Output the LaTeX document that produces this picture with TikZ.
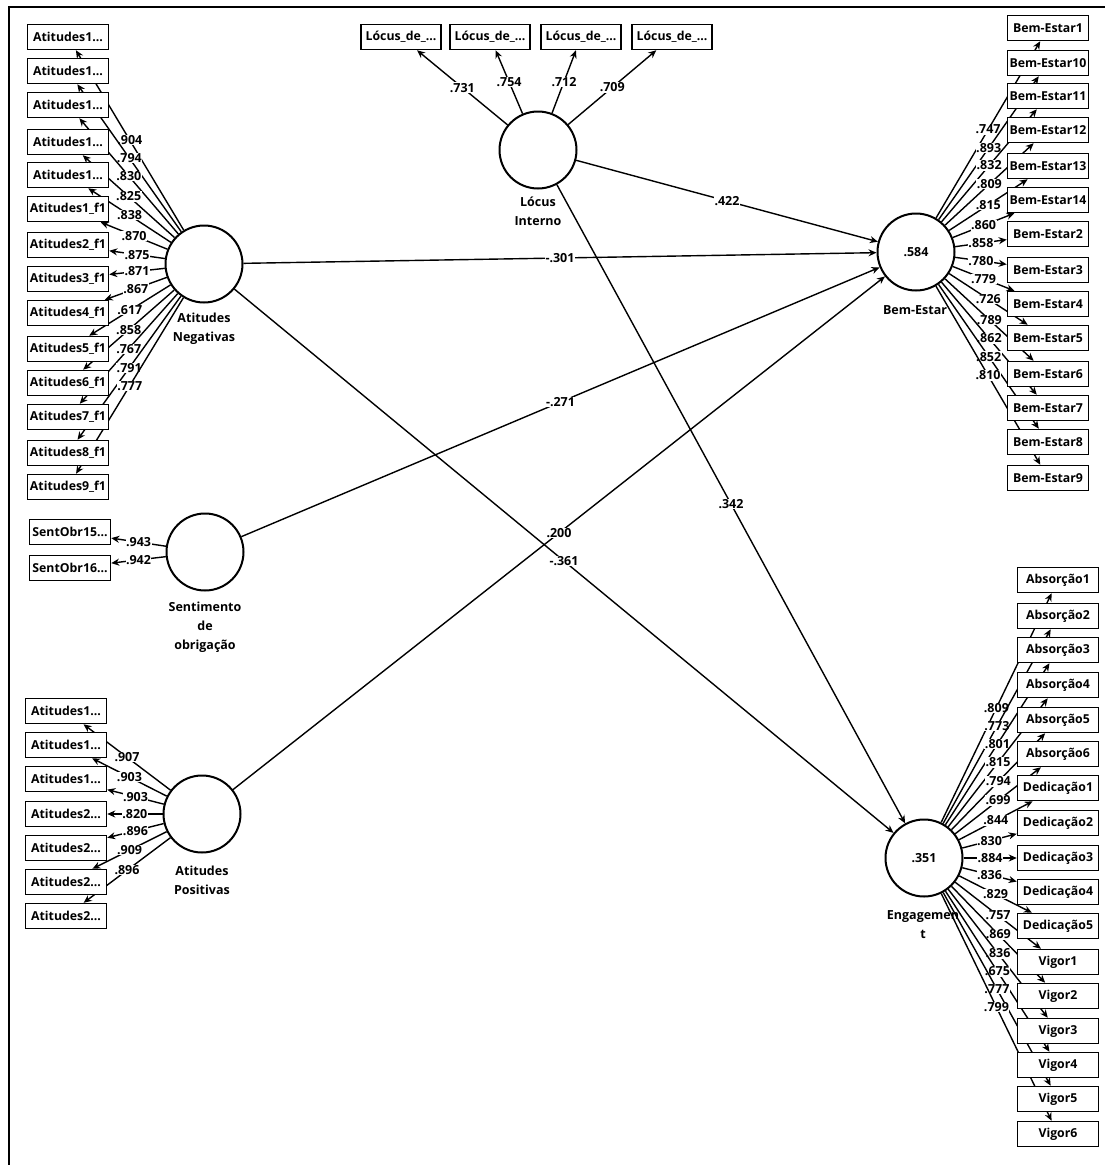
\documentclass[tikz,border=0pt]{standalone}
\usepackage{fontspec}
\setmainfont{Open Sans}
\usetikzlibrary{backgrounds,arrows.meta}
\begin{document}
\begin{tikzpicture}[x=1pt,y=-1pt,
  ind/.style={draw, fill=white, line width=1.5pt, minimum width=81pt, minimum height=25pt, inner sep=0.5pt, font=\bfseries\fontsize{12.3}{15}\selectfont},
  lat/.style={draw, circle, fill=white, line width=2pt, minimum size=77pt, inner sep=0pt, font=\bfseries\fontsize{12.5}{15}\selectfont},
  capt/.style={align=center, font=\bfseries\fontsize{12.5}{19}\selectfont},
  ld/.style={fill=white, inner sep=0.5pt, font=\bfseries\fontsize{12.5}{15}\selectfont},
  arr/.style={line width=1.4pt, -{Stealth[length=8pt,width=7pt]}},
]
\useasboundingbox (0,0) rectangle (1105,1165);
\draw[line width=2.5pt] (9,1165) -- (9,7) -- (1105,7);

% latent variables
\node[lat] (an) at (204,264) {};
\node[lat] (lo) at (538,150) {};
\node[lat] (so) at (205,552) {};
\node[lat] (ap) at (202,814) {};
\node[lat] (be) at (916,252) {.584};
\node[lat] (en) at (924,858) {.351};

\node[capt] (anc) at (204,328.5) {Atitudes\\Negativas};
\node[capt] (loc) at (538,211.5) {Lócus\\Interno};
\node[capt] (soc) at (205,627) {Sentimento\\de\\obrigação};
\node[capt] (apc) at (202,880) {Atitudes\\Positivas};
\node[capt] (bec) at (915,310) {Bem-Estar};
\node[capt] (enc) at (923,925) {Engagemen\\t};

% indicators: Atitudes Negativas
\foreach \n/\y/\t in {1/37/Atitudes1…,2/71/Atitudes1…,3/105/Atitudes1…,4/142/Atitudes1…,5/175/Atitudes1…,
  6/209/Atitudes1\_f1,7/245/Atitudes2\_f1,8/279/Atitudes3\_f1,9/313/Atitudes4\_f1,10/349/Atitudes5\_f1,
  11/383/Atitudes6\_f1,12/417/Atitudes7\_f1,13/453/Atitudes8\_f1,14/487/Atitudes9\_f1}
  \node[ind] (an\n) at (68,\y) {\t};

% Sentimento de obrigacao
\node[ind] (so1) at (70,532) {SentObr15…};
\node[ind] (so2) at (70,568) {SentObr16…};

% Atitudes Positivas
\foreach \n/\y/\t in {1/711/Atitudes1…,2/745/Atitudes1…,3/779/Atitudes1…,4/814/Atitudes2…,
  5/848/Atitudes2…,6/882/Atitudes2…,7/916/Atitudes2…}
  \node[ind] (ap\n) at (66,\y) {\t};

% Locus
\foreach \n/\x in {1/401,2/490,3/581,4/672}
  \node[ind, minimum width=80pt] (lo\n) at (\x,37) {Lócus\_de\_…};

% Bem-Estar
\foreach \n/\y/\t in {1/28/Bem-Estar1,2/63/Bem-Estar10,3/96/Bem-Estar11,4/130/Bem-Estar12,5/166/Bem-Estar13,
  6/200/Bem-Estar14,7/234/Bem-Estar2,8/270/Bem-Estar3,9/304/Bem-Estar4,10/338/Bem-Estar5,
  11/374/Bem-Estar6,12/408/Bem-Estar7,13/442/Bem-Estar8,14/478/Bem-Estar9}
  \node[ind] (be\n) at (1048,\y) {\t};

% Engagement
\foreach \n/\y/\t in {1/580/Absorção1,2/616/Absorção2,3/650/Absorção3,4/685/Absorção4,5/720/Absorção5,
  6/754/Absorção6,7/788/Dedicação1,8/823/Dedicação2,9/858/Dedicação3,10/892/Dedicação4,
  11/926/Dedicação5,12/962/Vigor1,13/996/Vigor2,14/1031/Vigor3,15/1065/Vigor4,16/1099/Vigor5,17/1134/Vigor6}
  \node[ind] (en\n) at (1058,\y) {\t};

\begin{scope}[on background layer]
  % structural paths
  \draw[arr] (lo) -- node[ld, midway]{.422} (be);
  \draw[arr] (an) -- node[ld, midway]{-.301} (be);
  \draw[arr] (so) -- node[ld, midway]{-.271} (be);
  \draw[arr] (ap) -- node[ld, midway]{.200} (be);
  \draw[arr] (an) -- node[ld, midway]{-.361} (en);
  \draw[arr] (lo) -- node[ld, midway]{.342} (en);

  % loadings
  \foreach \n/\l in {1/.904,2/.794,3/.830,4/.825,5/.838,6/.870,7/.875,8/.871,9/.867,10/.617,11/.858,12/.767,13/.791,14/.777}
    \draw[arr] (an) -- node[ld, midway]{\l} (an\n);
  \foreach \n/\l in {1/.943,2/.942}
    \draw[arr] (so) -- node[ld, midway]{\l} (so\n);
  \foreach \n/\l in {1/.907,2/.903,3/.903,4/.820,5/.896,6/.909,7/.896}
    \draw[arr] (ap) -- node[ld, midway]{\l} (ap\n);
  \foreach \n/\l in {1/.731,2/.754,3/.712,4/.709}
    \draw[arr] (lo) -- node[ld, midway]{\l} (lo\n);
  \foreach \n/\l in {1/.747,2/.893,3/.832,4/.809,5/.815,6/.860,7/.858,8/.780,9/.779,10/.726,11/.789,12/.862,13/.852,14/.810}
    \draw[arr] (be) -- node[ld, midway]{\l} (be\n);
  \foreach \n/\l in {1/.809,2/.773,3/.801,4/.815,5/.794,6/.699,7/.844,8/.830,9/.884,10/.836,11/.829,12/.757,13/.869,14/.836,15/.675,16/.777,17/.799}
    \draw[arr] (en) -- node[ld, midway]{\l} (en\n);
\end{scope}
\end{tikzpicture}
\end{document}
